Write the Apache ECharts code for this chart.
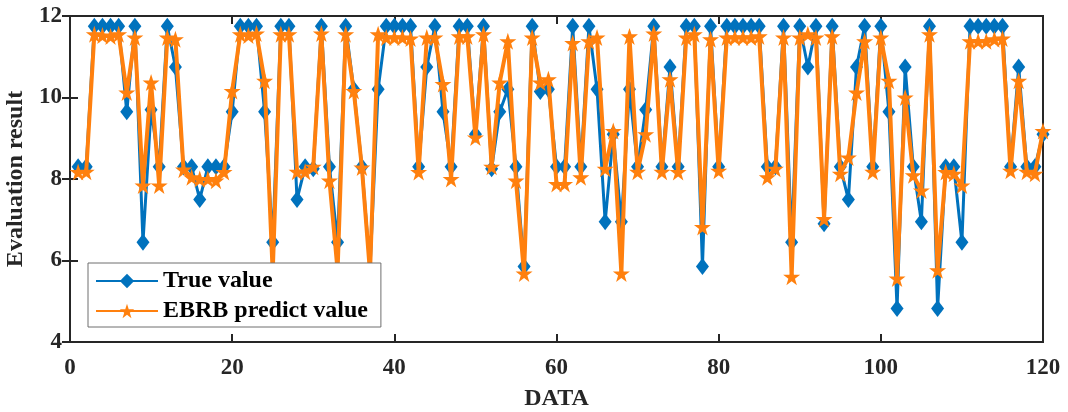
<!DOCTYPE html>
<html>
<head>
<meta charset="utf-8">
<script src="https://cdn.jsdelivr.net/npm/echarts@6/dist/echarts.min.js"></script>
<style>
  html, body { margin: 0; padding: 0; background: #fff; }
  #chart { width: 1068px; height: 412px; }
</style>
</head>
<body>
<div id="chart"></div>
<script>
// Sample numbers run 1..120 along the x axis
const trueValue = [
  8.3, 8.3, 11.75, 11.75, 11.75, 11.75, 9.65, 11.75, 6.45, 9.7,
  8.3, 11.75, 10.75, 8.3, 8.3, 7.5, 8.3, 8.3, 8.3, 9.65,
  11.75, 11.75, 11.75, 9.65, 6.45, 11.75, 11.75, 7.5, 8.3, 8.25,
  11.75, 8.3, 6.45, 11.75, 10.2, 8.3, 5.8, 10.2, 11.75, 11.75,
  11.75, 11.75, 8.3, 10.75, 11.75, 9.65, 8.3, 11.75, 11.75, 9.1,
  11.75, 8.25, 9.65, 10.2, 8.3, 5.85, 11.75, 10.15, 10.2, 8.3,
  8.3, 11.75, 8.3, 11.75, 10.2, 6.95, 9.1, 6.95, 10.2, 8.3,
  9.7, 11.75, 8.3, 10.75, 8.3, 11.75, 11.75, 5.85, 11.75, 8.3,
  11.75, 11.75, 11.75, 11.75, 11.75, 8.3, 8.3, 11.75, 6.45, 11.75,
  10.75, 11.75, 6.9, 11.75, 8.3, 7.5, 10.75, 11.75, 8.3, 11.75,
  9.65, 4.82, 10.75, 8.3, 6.95, 11.75, 4.82, 8.3, 8.3, 6.45,
  11.75, 11.75, 11.75, 11.75, 11.75, 8.3, 10.75, 8.3, 8.3, 9.1
];

const predictValue = [
  8.17, 8.18, 11.55, 11.52, 11.5, 11.55, 10.12, 11.47, 7.84, 10.37,
  7.84, 11.47, 11.43, 8.23, 8.04, 8.0, 8.0, 7.96, 8.17, 10.16,
  11.55, 11.52, 11.57, 10.41, 5.7, 11.55, 11.55, 8.18, 8.18, 8.3,
  11.57, 7.96, 5.75, 11.55, 10.16, 8.28, 5.7, 11.55, 11.47, 11.47,
  11.47, 11.45, 8.17, 11.47, 11.47, 10.33, 8.0, 11.5, 11.5, 9.02,
  11.55, 8.3, 10.37, 11.38, 7.96, 5.68, 11.47, 10.37, 10.45, 7.88,
  7.88, 11.34, 8.04, 11.38, 11.47, 8.25, 9.18, 5.68, 11.5, 8.18,
  9.1, 11.57, 8.18, 10.45, 8.17, 11.47, 11.55, 6.82, 11.43, 8.2,
  11.47, 11.47, 11.47, 11.47, 11.5, 8.04, 8.25, 11.47, 5.6, 11.47,
  11.55, 11.47, 7.02, 11.5, 8.13, 8.53, 10.12, 11.38, 8.18, 11.47,
  10.41, 5.56, 10.0, 8.09, 7.72, 11.55, 5.76, 8.17, 8.13, 7.84,
  11.38, 11.38, 11.38, 11.43, 11.45, 8.2, 10.41, 8.18, 8.13, 9.18
];

const seriesNames = ['True value', 'EBRB predict value'];
const xTicks = { min: 0, max: 120, interval: 20 };
const yTicks = { min: 4, max: 12, interval: 2 };

const toPoints = arr => arr.map((v, i) => [i + 1, v]);

const STAR = 'path://M50,0 L61.8,35.4 L99,35.4 L69,57.3 L80.4,92.7 L50,70.8 L19.6,92.7 L31,57.3 L1,35.4 L38.2,35.4 Z';
const FONT = 'Liberation Serif';
const INK = '#262626';

const tickStyle = { show: true, inside: true, length: 8, lineStyle: { color: INK, width: 2 } };
const labelStyle = { color: INK, fontFamily: FONT, fontWeight: 'bold', fontSize: 23 };
const nameStyle = { color: INK, fontFamily: FONT, fontWeight: 'bold', fontSize: 24 };

const chart = echarts.init(document.getElementById('chart'), null, { renderer: 'canvas' });

chart.setOption({
  animation: false,
  backgroundColor: '#fff',
  grid: {
    left: 70, top: 16, width: 973, height: 326,
    outerBoundsMode: 'none',
    containLabel: false,
    show: true, borderColor: INK, borderWidth: 2, backgroundColor: 'transparent'
  },
  legend: {
    data: seriesNames,
    orient: 'vertical',
    left: 88, top: 263,
    padding: [6, 13, 4, 7],
    itemGap: 6,
    itemWidth: 62, itemHeight: 18,
    backgroundColor: '#fff',
    borderColor: '#6e6e6e', borderWidth: 1, borderRadius: 0,
    textStyle: { color: '#000', fontFamily: FONT, fontWeight: 'bold', fontSize: 24, lineHeight: 24, padding: [0, 0, 0, 0] }
  },
  xAxis: [
    {
      type: 'value', position: 'bottom',
      min: xTicks.min, max: xTicks.max, interval: xTicks.interval,
      name: 'DATA', nameLocation: 'middle', nameGap: 45,
      nameTextStyle: nameStyle,
      axisLine: { show: false }, axisTick: tickStyle,
      axisLabel: Object.assign({ margin: 15 }, labelStyle),
      splitLine: { show: false }
    },
    {
      type: 'value', position: 'top',
      min: xTicks.min, max: xTicks.max, interval: xTicks.interval,
      axisLine: { show: false }, axisTick: tickStyle,
      axisLabel: { show: false }, splitLine: { show: false }
    }
  ],
  yAxis: [
    {
      type: 'value', position: 'left',
      min: yTicks.min, max: yTicks.max, interval: yTicks.interval,
      name: 'Evaluation result', nameLocation: 'middle', nameGap: 41,
      nameTextStyle: nameStyle,
      axisLine: { show: false }, axisTick: tickStyle,
      axisLabel: Object.assign({ margin: 8 }, labelStyle),
      splitLine: { show: false }
    },
    {
      type: 'value', position: 'right',
      min: yTicks.min, max: yTicks.max, interval: yTicks.interval,
      axisLine: { show: false }, axisTick: tickStyle,
      axisLabel: { show: false }, splitLine: { show: false }
    }
  ],
  series: [
    {
      name: seriesNames[0], type: 'line', xAxisIndex: 0, yAxisIndex: 0,
      data: toPoints(trueValue),
      symbol: 'diamond', symbolSize: [13, 17], showAllSymbol: true,
      lineStyle: { color: '#0072BD', width: 3 },
      itemStyle: { color: '#0072BD', borderWidth: 0 },
      z: 2
    },
    {
      name: seriesNames[1], type: 'line', xAxisIndex: 0, yAxisIndex: 0,
      data: toPoints(predictValue),
      symbol: STAR, symbolSize: 17, showAllSymbol: true,
      lineStyle: { color: '#FF800E', width: 4 },
      itemStyle: { color: '#FF800E', borderWidth: 0 },
      z: 3
    }
  ]
});
</script>
</body>
</html>
